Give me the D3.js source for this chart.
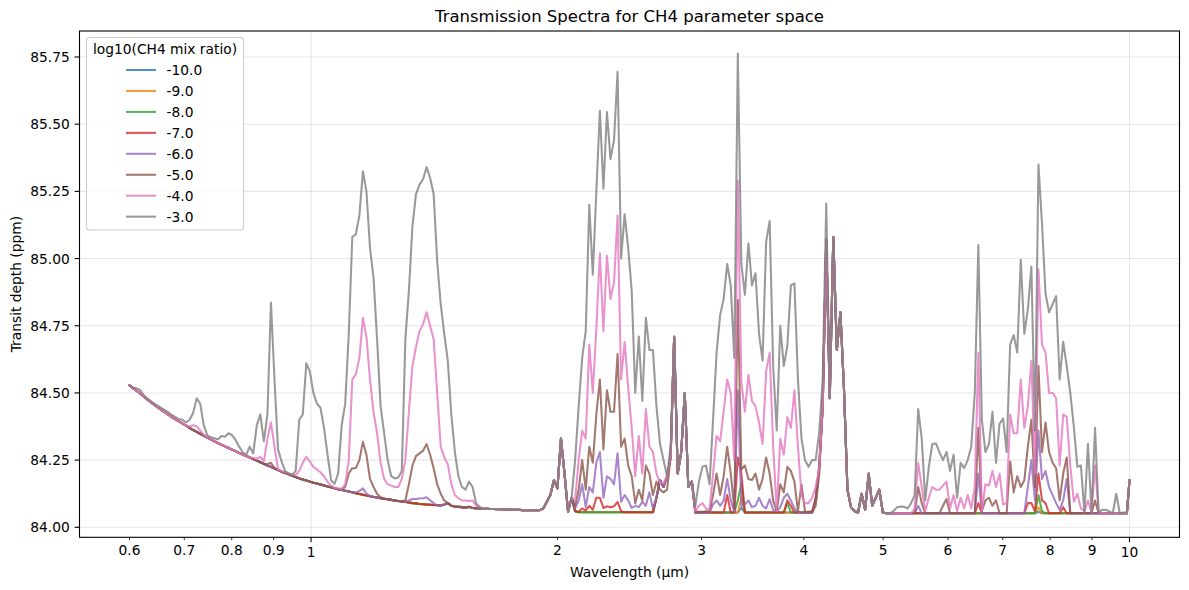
<!DOCTYPE html>
<html>
<head>
<meta charset="utf-8">
<script src="https://cdn.jsdelivr.net/npm/d3@7"></script>
<style>
  body { margin: 0; background: #fff; }
  text { font-family: "DejaVu Sans", sans-serif; fill: #000; }
</style>
</head>
<body>
<svg id="chart" width="1189" height="590"></svg>
<script>
// legend labels, drawn in this order (-10 first, -3 on top)
const mixRatios = ["-10.0", "-9.0", "-8.0", "-7.0", "-6.0", "-5.0", "-4.0", "-3.0"];
const lineColors = ["#1f77b4", "#ff7f0e", "#2ca02c", "#d62728", "#9467bd", "#8c564b", "#e377c2", "#7f7f7f"];

const yTicks = [84.0, 84.25, 84.5, 84.75, 85.0, 85.25, 85.5, 85.75];
const xMajorTicks = [1, 10];
const xMinorTicks = [0.6, 0.7, 0.8, 0.9, 2, 3, 4, 5, 6, 7, 8, 9];

// spectral bins, R = 100 from 0.6 um, last bin at 10 um
const wavelength = d3.range(283).map(k => 0.6 * Math.pow(1.01, k)).concat([10]);

// transit depth for log10(CH4) = -10, one value per bin
const baseline = [
  84.528, 84.518, 84.508, 84.498, 84.487, 84.476, 84.466, 84.456, 84.446, 84.437,
  84.428, 84.419, 84.410, 84.402, 84.394, 84.386, 84.378, 84.370, 84.362, 84.355,
  84.348, 84.341, 84.334, 84.327, 84.320, 84.313, 84.307, 84.301, 84.295, 84.289,
  84.283, 84.277, 84.271, 84.265, 84.260, 84.254, 84.248, 84.242, 84.236, 84.230,
  84.225, 84.219, 84.213, 84.207, 84.202, 84.197, 84.192, 84.187, 84.182, 84.178,
  84.174, 84.170, 84.166, 84.163, 84.159, 84.156, 84.152, 84.149, 84.145, 84.142,
  84.139, 84.136, 84.133, 84.130, 84.127, 84.124, 84.121, 84.118, 84.116, 84.113,
  84.111, 84.108, 84.106, 84.104, 84.102, 84.100, 84.098, 84.096, 84.094, 84.092,
  84.090, 84.089, 84.087, 84.086, 84.085, 84.084, 84.083, 84.082, 84.081, 84.085,
  84.090, 84.080, 84.077, 84.076, 84.075, 84.074, 84.076, 84.072, 84.071, 84.070,
  84.069, 84.069, 84.068, 84.068, 84.067, 84.067, 84.066, 84.066, 84.065, 84.065,
  84.065, 84.064, 84.064, 84.064, 84.064, 84.064, 84.064, 84.070, 84.095, 84.120,
  84.175, 84.145, 84.330, 84.200, 84.058, 84.110, 84.060, 84.056, 84.056, 84.056,
  84.056, 84.056, 84.056, 84.056, 84.056, 84.056, 84.056, 84.056, 84.056, 84.056,
  84.056, 84.056, 84.056, 84.056, 84.056, 84.056, 84.056, 84.056, 84.056, 84.110,
  84.176, 84.150, 84.190, 84.260, 84.709, 84.200, 84.280, 84.500, 84.150, 84.170,
  84.055, 84.055, 84.055, 84.055, 84.055, 84.055, 84.055, 84.055, 84.055, 84.055,
  84.055, 84.055, 84.055, 84.072, 84.055, 84.055, 84.055, 84.055, 84.055, 84.055,
  84.055, 84.055, 84.055, 84.055, 84.055, 84.055, 84.055, 84.055, 84.055, 84.055,
  84.055, 84.055, 84.055, 84.055, 84.080, 84.200, 84.450, 85.070, 84.480, 85.080,
  84.660, 84.800, 84.520, 84.140, 84.075, 84.060, 84.055, 84.125, 84.065, 84.200,
  84.080, 84.110, 84.140, 84.055, 84.052, 84.052, 84.052, 84.052, 84.052, 84.052,
  84.052, 84.052, 84.052, 84.052, 84.052, 84.052, 84.052, 84.052, 84.052, 84.052,
  84.052, 84.052, 84.052, 84.052, 84.052, 84.052, 84.052, 84.052, 84.052, 84.052,
  84.052, 84.052, 84.052, 84.052, 84.052, 84.052, 84.052, 84.052, 84.052, 84.052,
  84.052, 84.052, 84.052, 84.052, 84.052, 84.052, 84.052, 84.058, 84.052, 84.052,
  84.052, 84.052, 84.052, 84.052, 84.052, 84.052, 84.052, 84.052, 84.052, 84.052,
  84.052, 84.052, 84.052, 84.052, 84.052, 84.052, 84.052, 84.052, 84.052, 84.052,
  84.052, 84.052, 84.052, 84.176
];

// other mixing ratios: [first bin, depths] where they leave the -10 spectrum
const runsM9 = [[173, [84.11]], [257, [84.075]]];
const runsM8 = [[172, [84.10, 84.164]], [186, [84.09]], [194, [84.10, 84.22]], [257, [84.12, 84.06]]];
const runsM7 = [
  [126, [84.06, 84.058, 84.07, 84.062, 84.08, 84.065, 84.11, 84.11, 84.072, 84.078, 84.075, 84.078, 84.095, 84.06]],
  [169, [84.12]], [172, [84.26, 84.20]], [186, [84.10, 84.08]], [194, [84.11, 84.22]],
  [240, [84.09]], [254, [84.09, 84.09, 84.06, 84.20, 84.10, 84.09]], [264, [84.075]]
];
const runsM6 = [
  [64, [84.13, 84.135, 84.145, 84.125]],
  [79, [84.10, 84.105, 84.105, 84.107, 84.108, 84.112, 84.10, 84.09]],
  [126, [84.07, 84.10, 84.16, 84.075, 84.15, 84.13, 84.24, 84.28, 84.11, 84.19, 84.18, 84.16, 84.275,
         84.095, 84.12, 84.10, 84.072, 84.08, 84.075, 84.095, 84.08, 84.13, 84.07]],
  [165, [84.085, 84.10, 84.08, 84.10, 84.18, 84.10, 84.058, 84.51, 84.08, 84.085, 84.10, 84.075, 84.08,
         84.11, 84.08, 84.07, 84.105, 84.065, 84.058, 84.075, 84.11, 84.125, 84.10, 84.07]],
  [194, [84.09, 84.23]], [223, [84.08]], [240, [84.20]],
  [254, [84.15, 84.25, 84.10, 84.36, 84.18, 84.21, 84.15, 84.12, 84.09, 84.065, 84.10, 84.18]]
];
const runsM5 = [
  [39, [84.235, 84.24, 84.22]],
  [60, [84.141, 84.15, 84.20, 84.22, 84.22, 84.25, 84.318, 84.27, 84.18, 84.15, 84.125, 84.112]],
  [78, [84.10, 84.16, 84.23, 84.265, 84.275, 84.285, 84.31, 84.27, 84.22, 84.16, 84.125, 84.10, 84.09]],
  [126, [84.08, 84.14, 84.25, 84.14, 84.30, 84.24, 84.42, 84.55, 84.29, 84.51, 84.43, 84.43, 84.645, 84.30,
         84.33, 84.23, 84.19, 84.09, 84.14, 84.10, 84.23, 84.20, 84.12, 84.17, 84.14, 84.13, 84.14, 84.26]],
  [160, [84.058, 84.058, 84.058, 84.06, 84.058, 84.12, 84.20, 84.12, 84.19, 84.30, 84.20, 84.07, 84.846,
         84.215, 84.23, 84.18, 84.176, 84.20, 84.14, 84.18, 84.26, 84.20, 84.10, 84.058, 84.16, 84.13,
         84.225, 84.21, 84.17, 84.06, 84.16, 84.058, 84.058, 84.06, 84.10, 84.22]],
  [223, [84.15, 84.09]], [230, [84.08, 84.105]], [240, [84.37, 84.06, 84.10, 84.11, 84.08, 84.10]],
  [249, [84.245, 84.13, 84.19, 84.15, 84.175, 84.30, 84.40, 84.15, 84.60, 84.28, 84.39, 84.28, 84.24,
         84.22, 84.10, 84.20, 84.26]],
  [273, [84.10]]
];
const runsM4 = [
  [17, [84.375, 84.38, 84.375, 84.36, 84.345]],
  [35, [84.258, 84.255, 84.262, 84.245, 84.33, 84.39, 84.30, 84.215, 84.21, 84.205, 84.20, 84.197, 84.195,
        84.21, 84.24, 84.262, 84.245, 84.225, 84.215, 84.205, 84.19, 84.17, 84.155, 84.147, 84.145, 84.143,
        84.16, 84.25, 84.55, 84.57, 84.63, 84.78, 84.71, 84.55, 84.43, 84.35, 84.24, 84.18, 84.16, 84.155,
        84.15, 84.15, 84.18, 84.25, 84.43, 84.60, 84.67, 84.73, 84.755, 84.80, 84.75, 84.70, 84.50, 84.30,
        84.26, 84.235, 84.16, 84.12, 84.108, 84.10, 84.10, 84.098, 84.10, 84.08, 84.075]],
  [126, [84.10, 84.25, 84.36, 84.33, 84.68, 84.50, 84.74, 85.02, 84.73, 85.01, 84.85, 84.91, 85.16, 84.55,
         84.69, 84.52, 84.37, 84.19, 84.34, 84.20, 84.44, 84.30, 84.28, 84.20, 84.165, 84.165, 84.19, 84.26]],
  [160, [84.06, 84.08, 84.09, 84.07, 84.065, 84.20, 84.34, 84.32, 84.43, 84.55, 84.50, 84.25, 85.29, 84.54,
         84.43, 84.567, 84.47, 84.45, 84.39, 84.31, 84.58, 84.65, 84.30, 84.06, 84.33, 84.27, 84.41, 84.37,
         84.51, 84.30, 84.12, 84.09, 84.09, 84.11, 84.15, 84.22]],
  [222, [84.07, 84.24, 84.15, 84.06, 84.11, 84.15, 84.14, 84.14, 84.155, 84.17, 84.07, 84.12, 84.06, 84.11,
         84.07, 84.12, 84.07, 84.15, 84.65, 84.06, 84.16, 84.155, 84.21, 84.15, 84.20, 84.085, 84.09, 84.42,
         84.35, 84.35, 84.55, 84.37, 84.45, 84.62, 84.20, 84.96, 84.68, 84.65, 84.50, 84.50, 84.48, 84.23,
         84.42, 84.41, 84.23, 84.095, 84.125, 84.07, 84.06, 84.10, 84.055, 84.23, 84.055]]
];
const runsM3 = [
  [0, [84.528, 84.52, 84.517, 84.512, 84.492, 84.48, 84.47, 84.46, 84.452, 84.444, 84.436, 84.428, 84.418,
       84.41, 84.402, 84.40, 84.39, 84.40, 84.425, 84.48, 84.46, 84.38, 84.342, 84.335, 84.331, 84.327,
       84.34, 84.337, 84.35, 84.343, 84.325, 84.30, 84.28, 84.27, 84.30, 84.275, 84.38, 84.42, 84.32, 84.42,
       84.836, 84.55, 84.29, 84.245, 84.21, 84.20, 84.195, 84.21, 84.40, 84.42, 84.61, 84.58, 84.50, 84.46,
       84.445, 84.37, 84.27, 84.175, 84.162, 84.20, 84.38, 84.46, 84.72, 85.08, 85.09, 85.16, 85.325, 85.25,
       85.04, 84.93, 84.70, 84.45, 84.35, 84.25, 84.19, 84.182, 84.185, 84.21, 84.70, 84.88, 85.12, 85.24,
       85.275, 85.295, 85.34, 85.30, 85.24, 84.99, 84.83, 84.72, 84.62, 84.42, 84.28, 84.19, 84.15, 84.14,
       84.17, 84.15, 84.09, 84.075]],
  [126, [84.25, 84.45, 84.63, 84.73, 85.20, 84.94, 85.25, 85.55, 85.26, 85.545, 85.37, 85.44, 85.695, 85.00,
         85.165, 85.04, 84.88, 84.50, 84.71, 84.47, 84.78, 84.66, 84.66, 84.45, 84.31, 84.25, 84.19, 84.30]],
  [160, [84.08, 84.17, 84.225, 84.23, 84.16, 84.40, 84.65, 84.79, 84.85, 84.98, 84.90, 84.63, 85.763, 84.98,
         84.865, 85.057, 84.90, 84.945, 84.72, 84.62, 85.06, 85.14, 84.60, 84.36, 84.75, 84.60, 84.675, 84.90,
         84.908, 84.55, 84.33, 84.25, 84.225, 84.25, 84.25, 84.35, 84.55, 85.205]],
  [213, [84.055, 84.052, 84.052, 84.06, 84.075, 84.077, 84.077, 84.07, 84.09, 84.12, 84.44, 84.33, 84.10,
         84.225, 84.31, 84.312, 84.28, 84.25, 84.28, 84.21, 84.27, 84.11, 84.24, 84.22, 84.25, 84.30, 84.50,
         85.05, 84.40, 84.28, 84.31, 84.43, 84.24, 84.385, 84.405, 84.28, 84.68, 84.715, 84.65, 84.995, 84.72,
         84.81, 84.97, 84.36, 85.35, 85.13, 84.87, 84.80, 84.83, 84.86, 84.55, 84.69, 84.60, 84.50, 84.375,
         84.225, 84.23, 84.055, 84.31, 84.055, 84.37, 84.055, 84.065, 84.065, 84.06, 84.052, 84.125, 84.052,
         84.055, 84.055]]
];
const seriesRuns = [[], runsM9, runsM8, runsM7, runsM6, runsM5, runsM4, runsM3];

function buildSeries(runs) {
  const depth = baseline.slice();
  runs.forEach(([start, values]) => values.forEach((v, i) => { depth[start + i] = v; }));
  return depth.map((d, i) => [wavelength[i], d]);
}
const series = seriesRuns.map(buildSeries);

const svg = d3.select("#chart");
const plot = { left: 79.5, right: 1179.5, top: 31, bottom: 537.3 };
const fontSize = "13.8px";
const majorTick = 4.9, minorTick = 2.8, tickPad = 4.9;

const x = d3.scaleLog().domain([0.5213, 11.51]).range([plot.left, plot.right]);
const y = d3.scaleLinear().domain([83.9628, 85.8467]).range([plot.bottom, plot.top]);

// grid
const grid = svg.append("g").attr("stroke", "#b0b0b0").attr("stroke-opacity", 0.3).attr("stroke-width", 1.1);
grid.selectAll(".gy").data(yTicks).enter().append("line")
  .attr("x1", plot.left).attr("x2", plot.right)
  .attr("y1", d => y(d)).attr("y2", d => y(d));
grid.selectAll(".gx").data(xMajorTicks).enter().append("line")
  .attr("x1", d => x(d)).attr("x2", d => x(d))
  .attr("y1", plot.top).attr("y2", plot.bottom);

// spectra
svg.append("clipPath").attr("id", "plotClip").append("rect")
  .attr("x", plot.left).attr("y", plot.top)
  .attr("width", plot.right - plot.left).attr("height", plot.bottom - plot.top);

const line = d3.line().x(d => x(d[0])).y(d => y(d[1]));
svg.append("g").attr("clip-path", "url(#plotClip)")
  .selectAll("path").data(series).enter().append("path")
  .attr("d", line)
  .attr("fill", "none")
  .attr("stroke", (d, i) => lineColors[i])
  .attr("stroke-opacity", 0.8)
  .attr("stroke-width", 2.06)
  .attr("stroke-linejoin", "round")
  .attr("stroke-linecap", "square");

// spines
svg.append("rect").attr("x", plot.left).attr("y", plot.top)
  .attr("width", plot.right - plot.left).attr("height", plot.bottom - plot.top)
  .attr("fill", "none").attr("stroke", "#000").attr("stroke-width", 1.1);

// y axis
const yAxis = svg.append("g");
yAxis.selectAll("line").data(yTicks).enter().append("line")
  .attr("x1", plot.left - majorTick).attr("x2", plot.left)
  .attr("y1", d => y(d)).attr("y2", d => y(d))
  .attr("stroke", "#000").attr("stroke-width", 1.1);
yAxis.selectAll("text").data(yTicks).enter().append("text")
  .attr("x", plot.left - majorTick - tickPad).attr("y", d => y(d) + 5)
  .attr("text-anchor", "end").attr("font-size", fontSize)
  .text(d => d3.format(".2f")(d));

// x axis
const xAxis = svg.append("g");
xAxis.selectAll(".maj").data(xMajorTicks).enter().append("line")
  .attr("x1", d => x(d)).attr("x2", d => x(d))
  .attr("y1", plot.bottom).attr("y2", plot.bottom + majorTick)
  .attr("stroke", "#000").attr("stroke-width", 1.1);
xAxis.selectAll(".min").data(xMinorTicks).enter().append("line")
  .attr("x1", d => x(d)).attr("x2", d => x(d))
  .attr("y1", plot.bottom).attr("y2", plot.bottom + minorTick)
  .attr("stroke", "#000").attr("stroke-width", 0.8);
xAxis.selectAll(".majl").data(xMajorTicks).enter().append("text")
  .attr("x", d => x(d)).attr("y", plot.bottom + majorTick + tickPad + 10)
  .attr("text-anchor", "middle").attr("font-size", fontSize)
  .text(d => d);
xAxis.selectAll(".minl").data(xMinorTicks).enter().append("text")
  .attr("x", d => x(d)).attr("y", plot.bottom + minorTick + tickPad + 10)
  .attr("text-anchor", "middle").attr("font-size", fontSize)
  .text(d => d);

// labels
svg.append("text").attr("x", (plot.left + plot.right) / 2).attr("y", 577)
  .attr("text-anchor", "middle").attr("font-size", fontSize)
  .text("Wavelength (µm)");
svg.append("text").attr("transform", `translate(21,${(plot.top + plot.bottom) / 2}) rotate(-90)`)
  .attr("text-anchor", "middle").attr("font-size", fontSize)
  .text("Transit depth (ppm)");
svg.append("text").attr("x", (plot.left + plot.right) / 2).attr("y", 22)
  .attr("text-anchor", "middle").attr("font-size", "16.5px")
  .text("Transmission Spectra for CH4 parameter space");

// legend
const legend = svg.append("g");
legend.append("rect").attr("x", 86.5).attr("y", 37.5).attr("width", 157).attr("height", 192.5)
  .attr("rx", 3).attr("fill", "#fff").attr("fill-opacity", 0.8)
  .attr("stroke", "#cccccc").attr("stroke-width", 1.1);
legend.append("text").attr("x", 165).attr("y", 54)
  .attr("text-anchor", "middle").attr("font-size", fontSize)
  .text("log10(CH4 mix ratio)");
const rows = legend.selectAll(".row").data(mixRatios).enter().append("g")
  .attr("transform", (d, i) => `translate(0,${70 + i * 20.95})`);
rows.append("line").attr("x1", 127).attr("x2", 155)
  .attr("stroke", (d, i) => lineColors[i]).attr("stroke-opacity", 0.8)
  .attr("stroke-width", 2.06).attr("stroke-linecap", "square");
rows.append("text").attr("x", 166.5).attr("y", 5)
  .attr("font-size", fontSize).text(d => d);
</script>
</body>
</html>
